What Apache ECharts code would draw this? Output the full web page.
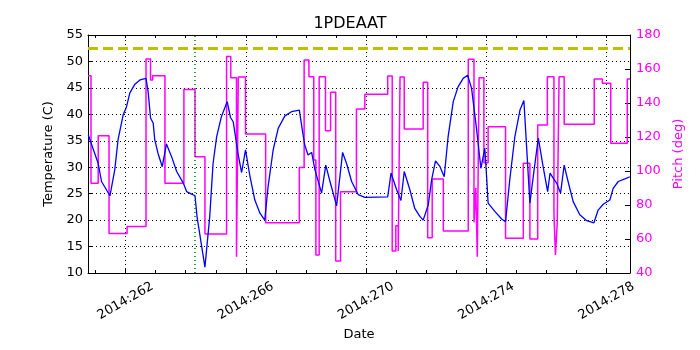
<!DOCTYPE html>
<html>
<head>
<meta charset="utf-8">
<script src="https://cdn.jsdelivr.net/npm/echarts@6/dist/echarts.min.js"></script>
<style>
  html, body { margin: 0; padding: 0; background: #fff; }
  #chart { width: 700px; height: 350px; }
</style>
</head>
<body>
<div id="chart"></div>
<script>
// x values are day-of-year 2014
const xMin = 260.75;
const xMax = 278.78;
const labelDays = [262, 266, 270, 274, 278];
const minorDays = [261, 262, 263, 264, 265, 266, 267, 268, 269, 270, 271, 272, 273, 274, 275, 276, 277, 278];

// temperature (C)
const tempTimes = [
  260.76, 261.09, 261.20, 261.48, 261.64, 261.75, 261.92, 262.03, 262.14, 262.31,
  262.48, 262.68, 262.75, 262.83, 262.92, 262.97, 263.08, 263.22, 263.36, 263.53,
  263.70, 263.92, 264.03, 264.20, 264.31, 264.38, 264.64, 264.80, 264.91, 265.03,
  265.19, 265.38, 265.49, 265.58, 265.75, 265.86, 265.99, 266.14, 266.30, 266.47,
  266.63, 266.74, 266.91, 267.08, 267.30, 267.52, 267.78, 267.88, 267.96, 268.07,
  268.13, 268.19, 268.30, 268.52, 268.66, 268.80, 269.02, 269.22, 269.35, 269.52,
  269.74, 269.96, 270.72, 270.83, 271.02, 271.16, 271.27, 271.46, 271.62, 271.79,
  271.90, 272.07, 272.18, 272.31, 272.46, 272.60, 272.73, 272.90, 273.06, 273.23,
  273.38, 273.51, 273.68, 273.82, 273.95, 274.01, 274.06, 274.29, 274.51, 274.64,
  274.78, 274.95, 275.12, 275.25, 275.34, 275.45, 275.59, 275.73, 275.89, 276.04,
  276.12, 276.23, 276.34, 276.47, 276.59, 276.72, 276.89, 277.11, 277.34, 277.58,
  277.72, 277.89, 278.11, 278.22, 278.39, 278.61, 278.78
];
const tempValues = [
  36.1, 30.7, 27.3, 24.6, 29.5, 35.2, 39.9, 41.4, 44.0, 45.7,
  46.5, 46.8, 44.3, 39.3, 38.3, 35.2, 32.6, 30.1, 34.4, 32.0,
  29.2, 27.0, 25.4, 24.9, 24.6, 20.5, 11.1, 20.7, 30.7, 35.8,
  39.6, 42.4, 39.4, 38.6, 32.3, 29.0, 33.3, 28.2, 23.8, 21.3,
  20.0, 26.3, 33.3, 37.4, 39.7, 40.5, 40.8, 37.0, 34.2, 32.3,
  32.0, 32.8, 29.5, 25.1, 30.4, 27.3, 22.7, 32.8, 30.7, 27.3,
  24.8, 24.3, 24.4, 28.9, 25.7, 23.7, 29.2, 25.7, 22.2, 20.7,
  20.0, 22.9, 27.6, 31.2, 30.1, 28.2, 35.8, 42.4, 45.2, 46.8,
  47.4, 44.9, 37.0, 29.8, 33.6, 28.2, 23.2, 21.6, 20.2, 19.7,
  27.6, 35.8, 40.8, 42.6, 33.9, 23.2, 29.5, 35.5, 30.1, 25.4,
  28.9, 27.9, 27.0, 25.1, 30.4, 27.3, 23.5, 21.0, 19.9, 19.5,
  21.9, 23.0, 23.8, 26.0, 27.3, 27.8, 28.2
];

// pitch (deg), each level holds until the next time
const pitchTimes = [
  260.75, 260.85, 261.09, 261.45, 262.05, 262.68, 262.83, 262.90, 263.31, 263.94,
  264.31, 264.64, 265.36, 265.50, 265.69, 265.75, 265.99, 266.66, 267.78, 267.94,
  268.10, 268.26, 268.33, 268.44, 268.65, 268.82, 268.99, 269.15, 269.68, 269.96,
  270.72, 270.87, 270.99, 271.07, 271.13, 271.27, 271.90, 272.05, 272.20, 272.57,
  273.40, 273.59, 273.65, 273.70, 273.76, 273.92, 274.06, 274.64, 275.23, 275.45,
  275.71, 276.03, 276.25, 276.30, 276.36, 276.42, 276.59, 277.59, 277.86, 278.14,
  278.69, 278.78
];
const pitchValues = [
  156.1, 92.8, 120.8, 63.3, 67.3, 165.9, 153.5, 156.1, 92.8, 148.0,
  108.4, 62.9, 167.3, 154.9, 49.6, 155.3, 121.8, 69.6, 102.0, 165.3,
  155.5, 106.5, 50.6, 155.5, 123.7, 146.3, 47.1, 87.8, 136.5, 145.1,
  155.9, 52.9, 67.8, 52.9, 155.3, 124.7, 152.2, 60.8, 95.3, 64.7,
  165.7, 69.8, 90.0, 49.6, 154.9, 104.9, 126.1, 60.4, 104.5, 60.0,
  127.1, 155.5, 75.1, 50.6, 69.6, 155.5, 127.5, 154.1, 151.6, 116.3,
  154.1, 154.1
];

const tempLimit = 52.5;
const markDay = 264.31;

const chart = echarts.init(document.getElementById('chart'));

const font = 'DejaVu Sans';
const dotted = { color: '#000', width: 1, type: [1, 3] };

// vertical grid only at the labelled days
const vGrid = labelDays.map(d => ({ xAxis: d, lineStyle: dotted }));

const option = {
  animation: false,
  textStyle: { fontFamily: font },
  title: {
    text: '1PDEAAT',
    left: 'center',
    top: 11,
    textStyle: { fontFamily: font, fontSize: 16, fontWeight: 'normal', color: '#000' }
  },
  grid: { left: 88, right: 70, top: 35, bottom: 77 },
  xAxis: [
    {
      type: 'value',
      position: 'bottom',
      min: xMin,
      max: xMax,
      name: 'Date',
      nameLocation: 'middle',
      nameGap: 53,
      nameTextStyle: { fontFamily: font, fontSize: 13, color: '#000' },
      axisLine: { show: true, lineStyle: { color: '#000', width: 1 } },
      axisTick: { show: true, inside: true, length: 5, customValues: labelDays, lineStyle: { color: '#000' } },
      axisLabel: {
        customValues: labelDays,
        formatter: v => '2014:' + v,
        rotate: 30,
        align: 'center',
        verticalAlign: 'middle',
        margin: 28,
        fontFamily: font,
        fontSize: 13,
        color: '#000'
      },
      splitLine: { show: false }
    },
    {
      type: 'value',
      position: 'bottom',
      min: xMin,
      max: xMax,
      axisLine: { show: false },
      axisTick: { show: true, inside: true, length: 3, customValues: minorDays, lineStyle: { color: '#000' } },
      axisLabel: { show: false },
      splitLine: { show: false }
    },
    {
      type: 'value',
      position: 'top',
      min: xMin,
      max: xMax,
      axisLine: { show: true, lineStyle: { color: '#000', width: 1 } },
      axisTick: { show: true, inside: true, length: 3, customValues: minorDays, lineStyle: { color: '#000' } },
      axisLabel: { show: false },
      splitLine: { show: false }
    }
  ],
  yAxis: [
    {
      type: 'value',
      min: 10,
      max: 55,
      interval: 5,
      name: 'Temperature (C)',
      nameLocation: 'middle',
      nameGap: 26,
      nameTextStyle: { fontFamily: font, fontSize: 13, color: '#000' },
      axisLine: { show: true, lineStyle: { color: '#000', width: 1 } },
      axisTick: { show: true, inside: true, length: 5, lineStyle: { color: '#000' } },
      axisLabel: { fontFamily: font, fontSize: 13, color: '#000', margin: 5 },
      splitLine: { show: true, lineStyle: dotted }
    },
    {
      type: 'value',
      min: 40,
      max: 180,
      interval: 20,
      position: 'right',
      name: 'Pitch (deg)',
      nameLocation: 'middle',
      nameGap: 37,
      nameRotate: 90,
      nameTextStyle: { fontFamily: font, fontSize: 13, color: '#ff00ff' },
      axisLine: { show: true, lineStyle: { color: '#000', width: 1 } },
      axisTick: { show: true, inside: true, length: 5, lineStyle: { color: '#000' } },
      axisLabel: { fontFamily: font, fontSize: 13, color: '#ff00ff', margin: 6 },
      splitLine: { show: false }
    }
  ],
  series: [
    {
      name: 'Pitch',
      type: 'line',
      xAxisIndex: 0,
      yAxisIndex: 1,
      step: 'end',
      showSymbol: false,
      symbol: 'none',
      lineStyle: { color: '#ff00ff', width: 1.5 },
      data: pitchTimes.map((t, i) => [t, pitchValues[i]]),
      z: 2,
      markLine: {
        silent: true,
        symbol: 'none',
        label: { show: false },
        data: vGrid
      }
    },
    {
      name: 'Temperature',
      type: 'line',
      xAxisIndex: 0,
      yAxisIndex: 0,
      showSymbol: false,
      symbol: 'none',
      lineStyle: { color: '#0000ff', width: 1.3 },
      data: tempTimes.map((t, i) => [t, tempValues[i]]),
      z: 3,
      markLine: {
        silent: true,
        symbol: 'none',
        label: { show: false },
        data: [
          { yAxis: tempLimit, lineStyle: { color: '#bfbf00', width: 3, type: [10, 5] } },
          { xAxis: markDay, lineStyle: { color: '#008000', width: 1.5, type: [1, 3] } }
        ]
      }
    }
  ]
};

chart.setOption(option);
</script>
</body>
</html>
